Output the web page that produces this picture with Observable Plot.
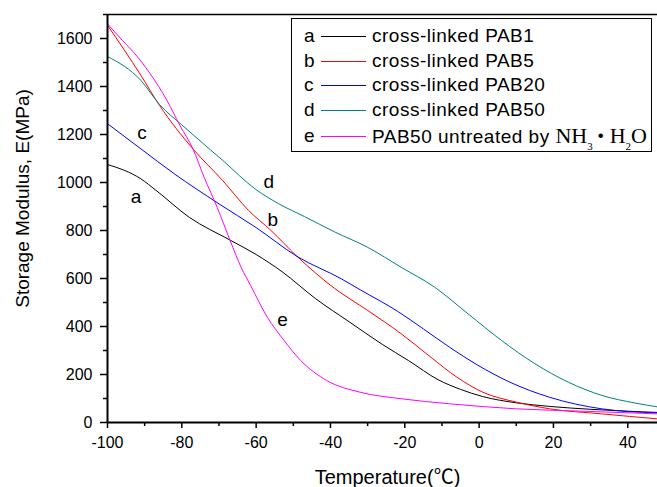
<!DOCTYPE html>
<html><head><meta charset="utf-8">
<script src="https://cdn.jsdelivr.net/npm/d3@7"></script>
<script src="https://cdn.jsdelivr.net/npm/@observablehq/plot@0.6"></script>
<style>
body{margin:0;background:#fff;}
#wrap{position:relative;width:657px;height:487px;overflow:hidden;background:#fff;}
#legend{position:absolute;left:291px;top:18px;width:361px;height:134px;border:1px solid #000;background:#fff;font-family:"Liberation Sans",Arial,sans-serif;font-size:19px;letter-spacing:0.5px;color:#000;box-sizing:border-box;}
.row{position:absolute;left:0;height:26px;width:100%;}
.row .let{position:absolute;left:12px;top:0;line-height:26px;}
.row .sw{position:absolute;left:29px;top:13px;width:45px;height:1px;}
.row .txt{position:absolute;left:80px;top:0;line-height:26px;white-space:nowrap;}
.serif{font-family:"Liberation Serif","Times New Roman",serif;font-size:22px;letter-spacing:0;}
.serif sub{font-size:11px;vertical-align:-7px;line-height:0;}
.serif .dot{font-family:"Liberation Sans",Arial,sans-serif;font-size:17px;vertical-align:2px;padding:0 6px 0 5px;}
</style>
</head><body>
<div id="wrap"></div>
<script>
// ---- data ----
const seriesLetters = ["a", "b", "c", "d", "e"];
const seriesNames = ["cross-linked PAB1", "cross-linked PAB5", "cross-linked PAB20", "cross-linked PAB50", "PAB50 untreated by "];
const seriesColors = ["#000000", "#ff0000", "#0000ff", "#008080", "#ff00ff"];

const tempA = [-100, -91, -87, -78, -67, -60, -53, -44, -35, -26, -19, -11, -5, 1, 10, 19, 30, 40, 48];
const modA  = [1075, 1015, 968, 855, 760, 700, 628, 516, 420, 325, 258, 178, 138, 108, 82, 67, 55, 47, 42];

const tempB = [-100, -91, -86, -77, -69, -62, -56, -49, -39, -30, -21, -13, -6, 1, 10, 19, 33, 48];
const modB  = [1655, 1446, 1321, 1140, 1008, 883, 800, 692, 560, 467, 370, 272, 189, 126, 85, 57, 36, 15];

const tempC = [-100, -91, -82, -70, -60, -49, -37, -32, -22, -15, -8, -0.5, 8, 19, 33, 48];
const modC  = [1245, 1140, 1036, 911, 812, 692, 598, 553, 464, 390, 314, 240, 170, 105, 57, 40];

const tempD = [-100, -91, -86, -80, -69, -60, -54, -47, -39, -30, -21, -12, -3, 6, 15, 24, 33, 42, 48];
const modD  = [1525, 1425, 1325, 1240, 1092, 970, 912, 858, 795, 730, 647, 564, 453, 342, 245, 168, 113, 81, 65];

const tempE = [-100, -96, -93, -88.5, -84, -80.5, -77, -74, -70.5, -67, -64, -61.5, -57, -52.5, -48, -41, -32, -21, -8, 10, 28, 48];
const modE  = [1661, 1592, 1543, 1453, 1342, 1237, 1140, 1022, 897, 758, 645, 571, 439, 342, 258, 175, 126, 99, 78, 57, 47, 36];

const labelT = [-92.3, -55.5, -90.7, -56.6, -52.9];
const labelE = [942, 845, 1206, 1001, 429];

const xMajorTicks = [-100, -80, -60, -40, -20, 0, 20, 40];
const xMinorTicks = [-90, -70, -50, -30, -10, 10, 30];
const yMajorTicks = [0, 200, 400, 600, 800, 1000, 1200, 1400, 1600];
const yMinorTicks = [100, 300, 500, 700, 900, 1100, 1300, 1500, 1700];

const xTitle = "Temperature(\u2103)";
const yTitle = "Storage Modulus, E(MPa)";

// ---- build table ----
const temps = [tempA, tempB, tempC, tempD, tempE];
const mods = [modA, modB, modC, modD, modE];
const rows = [];
temps.forEach((ts, i) => ts.forEach((t, j) => rows.push({s: seriesLetters[i], t, e: mods[i][j]})));
const labels = seriesLetters.map((s, i) => ({s, t: labelT[i], e: labelE[i]}));

const font = "Liberation Sans, Arial, Noto Sans CJK SC, sans-serif";

const chart = Plot.plot({
  width: 657, height: 487,
  marginLeft: 107, marginRight: 0, marginTop: 14, marginBottom: 65,
  x: {domain: [-100, 48]},
  y: {domain: [0, 1700]},
  color: {domain: seriesLetters, range: seriesColors},
  style: {fontFamily: font, fontSize: "16px", color: "#000", background: "transparent"},
  marks: [
    Plot.axisX({ticks: xMajorTicks, tickSize: 6, tickPadding: 8, label: null, fontSize: 16, strokeWidth: 1.5, tickFormat: d => String(d)}),
    Plot.axisX({ticks: xMinorTicks, tickSize: 4, text: null, label: null, strokeWidth: 1.5}),
    Plot.axisY({ticks: yMajorTicks, tickSize: 7, tickPadding: 8, label: null, fontSize: 16, strokeWidth: 1.5, tickFormat: d => String(d)}),
    Plot.axisY({ticks: yMinorTicks, tickSize: 4, text: null, label: null, strokeWidth: 1.5}),
    Plot.line(rows, {x: "t", y: "e", z: "s", stroke: "s", strokeWidth: 1, curve: "monotone-x"}),
    Plot.ruleX([-100], {strokeWidth: 2}),
    Plot.ruleY([0], {strokeWidth: 2}),
    Plot.ruleY([1700], {strokeWidth: 1.6}),
    Plot.text(labels, {x: "t", y: "e", text: "s", fontSize: 19, fill: "#000"}),
    Plot.text([xTitle], {frameAnchor: "bottom", lineAnchor: "middle", textAnchor: "middle", dx: 5, dy: 55, fontSize: 20, fill: "#000"}),
    Plot.text([yTitle], {frameAnchor: "left", lineAnchor: "middle", textAnchor: "middle", rotate: -90, dx: -85, dy: -20, fontSize: 19, fill: "#000"})
  ]
});
const wrap = document.getElementById("wrap");
wrap.appendChild(chart);

// ---- legend ----
const leg = document.createElement("div");
leg.id = "legend";
const rowCenters = [17, 42, 66, 91, 117];
seriesLetters.forEach((s, i) => {
  const r = document.createElement("div");
  r.className = "row";
  r.style.top = (rowCenters[i] - 13) + "px";
  const l = document.createElement("span"); l.className = "let"; l.textContent = s;
  const sw = document.createElement("span"); sw.className = "sw"; sw.style.background = seriesColors[i];
  const tx = document.createElement("span"); tx.className = "txt"; tx.textContent = seriesNames[i];
  if (i === 4) {
    const sf = document.createElement("span");
    sf.className = "serif";
    sf.innerHTML = "NH<sub>3</sub><span class=\"dot\">\u2022</span>H<sub>2</sub>O";
    tx.appendChild(sf);
  }
  r.appendChild(l); r.appendChild(sw); r.appendChild(tx);
  leg.appendChild(r);
});
wrap.appendChild(leg);
</script>
</body></html>
